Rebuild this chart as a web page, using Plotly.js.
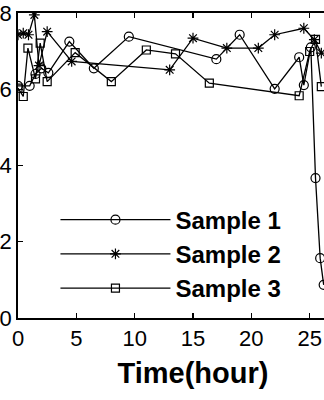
<!DOCTYPE html>
<html>
<head>
<meta charset="utf-8">
<script src="https://cdn.plot.ly/plotly-3.0.1.min.js"></script>
<style>
html,body{margin:0;padding:0;overflow:hidden;background:#fff;width:324px;height:400px;}
#chart{position:absolute;left:-42px;top:0;width:420px;height:400px;}
</style>
</head>
<body>
<div id="chart"></div>
<script>
var s1Time = [0, 1.0, 1.5, 2.0, 2.6, 4.4, 6.5, 9.5, 17.0, 19.0, 22.0, 24.1, 24.5, 25.1, 25.5, 25.9, 26.2];
var s1Val  = [6.09, 6.09, 6.4, 6.55, 6.43, 7.25, 6.55, 7.38, 6.79, 7.43, 6.01, 6.84, 6.11, 7.1, 3.67, 1.57, 0.87];
var s2Time = [0, 0.45, 0.9, 1.4, 1.8, 2.5, 4.6, 13.0, 15.0, 17.9, 20.6, 22.0, 24.5, 25.4, 26.0];
var s2Val  = [7.43, 7.47, 7.43, 7.95, 6.62, 7.51, 6.73, 6.51, 7.34, 7.08, 7.08, 7.43, 7.6, 7.3, 6.95];
var s3Time = [0, 0.45, 0.85, 1.5, 1.9, 2.5, 4.9, 8.0, 11.0, 13.5, 16.4, 24.1, 25.0, 25.5, 26.0];
var s3Val  = [6.03, 5.81, 7.08, 6.27, 7.21, 6.2, 6.96, 6.2, 7.03, 6.93, 6.16, 5.83, 6.99, 7.31, 6.07];
var names = ['Sample 1', 'Sample 2', 'Sample 3'];
var xTicks = [0, 5, 10, 15, 20, 25, 30];
var yTicks = [0, 2, 4, 6, 8];

var lineStyle = {color: '#000', width: 1.3};
function trace(x, y, name, sym, size) {
  return {
    x: x, y: y, name: name, type: 'scatter', mode: 'lines+markers',
    line: lineStyle,
    marker: {symbol: sym, size: size, color: '#000', line: {color: '#000', width: 1.2}},
    cliponaxis: true
  };
}
var data = [
  trace(s1Time, s1Val, names[0], 'circle-open', 9),
  trace(s2Time, s2Val, names[1], 'asterisk-open', 9),
  trace(s3Time, s3Val, names[2], 'square-open', 8)
];
var layout = {
  width: 420, height: 400,
  margin: {l: 60, r: 10, t: 13, b: 82},
  paper_bgcolor: '#fff', plot_bgcolor: '#fff',
  font: {family: 'Liberation Sans, Arial, sans-serif', color: '#000'},
  showlegend: true,
  legend: {
    x: 0.107, y: 0.395, xanchor: 'left', yanchor: 'top',
    bgcolor: 'rgba(0,0,0,0)', borderwidth: 0,
    itemwidth: 110, tracegroupgap: 0,
    font: {size: 24, family: 'Liberation Sans, Arial, sans-serif', weight: 'bold', color: '#000'}
  },
  xaxis: {
    range: [0, 30], tickvals: xTicks, ticktext: xTicks.map(String),
    ticks: 'inside', ticklen: 5, tickwidth: 1.3, tickcolor: '#000',
    showline: true, linecolor: '#000', linewidth: 1.8, mirror: 'ticks',
    showgrid: false, zeroline: false,
    tickfont: {size: 22, color: '#000'},
    title: {text: 'Time(hour)', font: {size: 29, weight: 'bold', color: '#000'}, standoff: 12}
  },
  yaxis: {
    range: [0, 8], tickvals: yTicks, ticktext: yTicks.map(String),
    ticks: 'inside', ticklen: 5, tickwidth: 1.3, tickcolor: '#000',
    showline: true, linecolor: '#000', linewidth: 1.8, mirror: 'ticks',
    showgrid: false, zeroline: false,
    tickfont: {size: 22, color: '#000'}
  }
};
Plotly.newPlot('chart', data, layout, {displayModeBar: false, staticPlot: true});
</script>
</body>
</html>
